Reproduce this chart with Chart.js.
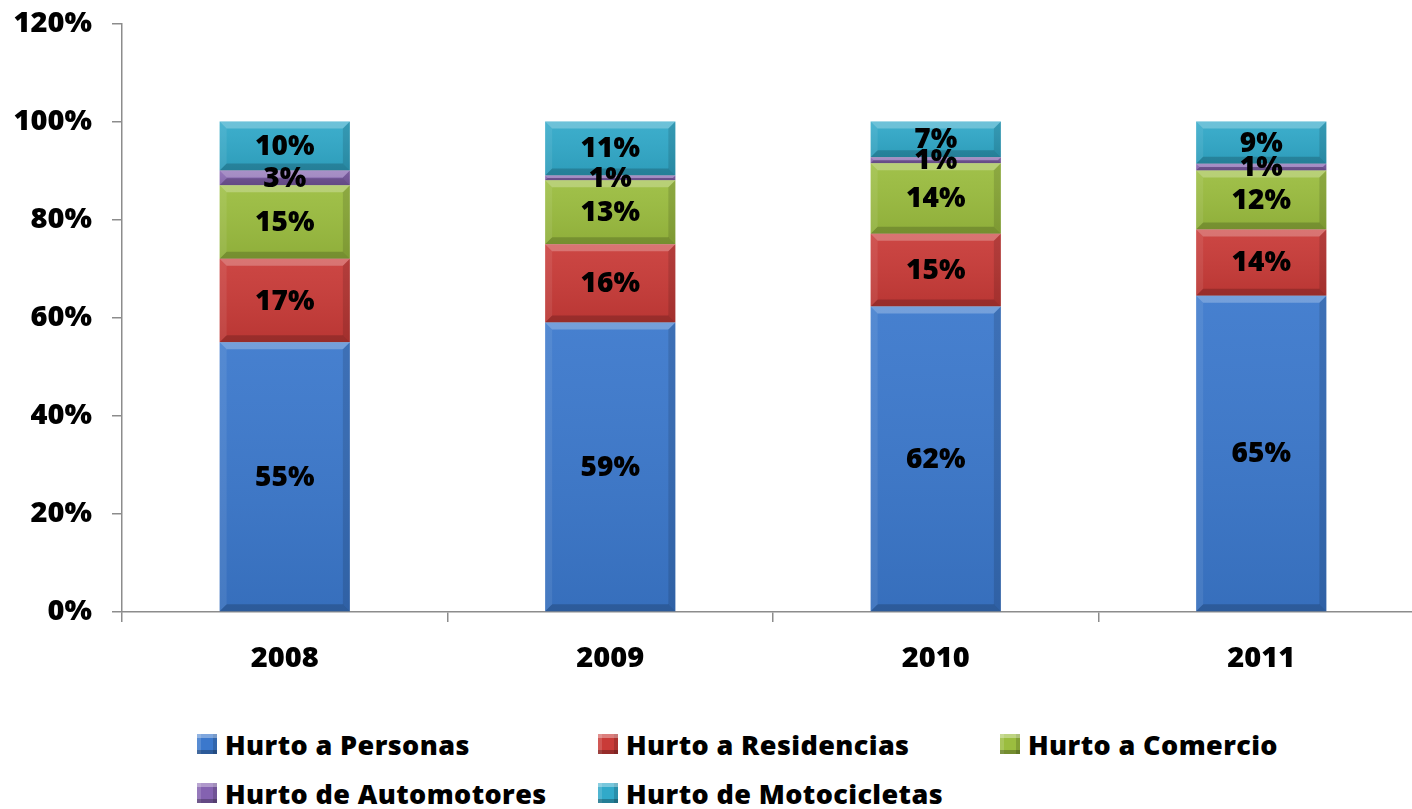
<!DOCTYPE html>
<html>
<head>
<meta charset="utf-8">
<script src="https://cdn.jsdelivr.net/npm/chart.js@4.4.1/dist/chart.umd.min.js"></script>
<style>
  html, body { margin: 0; padding: 0; background: #fff; overflow: hidden; }
  body { width: 1412px; height: 809px; position: relative; font-family: "Open Sans", Lato, sans-serif; }
  #wrap { position: absolute; left: 0; top: -14px; width: 1424px; height: 714px; }
  #legend { position: absolute; left: 197px; top: 724px; display: grid;
    grid-template-columns: 401px 402px 300px; row-gap: 9px; }
  .item { display: flex; align-items: center; height: 40px; font-weight: 800; font-size: 27px; color: #000; white-space: nowrap; letter-spacing: 0.4px; }
  .box { width: 20px; height: 20px; margin-right: 8px;
    box-shadow: inset 0 4px 0 rgba(255,255,255,0.35), inset 0 -4px 0 rgba(0,0,0,0.25), inset 4px 0 0 rgba(255,255,255,0.15), inset -4px 0 0 rgba(0,0,0,0.15); }
</style>
</head>
<body>
<div id="wrap"><canvas id="chart" width="1424" height="714"></canvas></div>
<div id="legend"></div>
<script>
// Hurto por tipo, participación anual (%)
const years = ['2008', '2009', '2010', '2011'];
const seriesNames = ['Hurto a Personas', 'Hurto a Residencias', 'Hurto a Comercio', 'Hurto de Automotores', 'Hurto de Motocicletas'];
const personas    = [55, 59, 62.3, 64.5];
const residencias = [17, 16, 14.8, 13.5];
const comercio    = [15, 13, 14.4, 12.0];
const automotores = [3, 1, 1.2, 1.4];
const motocicletas = [10, 11, 7.3, 8.6];
const yTicks = [0, 20, 40, 60, 80, 100, 120];

const colors = ['#3B78CC', '#C93B38', '#9BBD3F', '#8462B0', '#31A9C9'];
const values = [personas, residencias, comercio, automotores, motocicletas];
const FONT = '"Open Sans", Lato, sans-serif';

// bevel look of the Excel bars, drawn over each bar element
const bevelPlugin = {
  id: 'bevel',
  afterDatasetsDraw(chart) {
    const ctx = chart.ctx;
    chart.data.datasets.forEach((ds, i) => {
      chart.getDatasetMeta(i).data.forEach(bar => {
        const p = bar.getProps(['x', 'y', 'base', 'width'], true);
        const l = p.x - p.width / 2, r = p.x + p.width / 2;
        const t = Math.min(p.y, p.base), b = Math.max(p.y, p.base);
        const h = b - t;
        const s = Math.min(7, h / 2);
        ctx.save();
        const g = ctx.createLinearGradient(0, t, 0, b);
        g.addColorStop(0, 'rgba(255,255,255,0.06)');
        g.addColorStop(1, 'rgba(0,0,0,0.08)');
        ctx.fillStyle = g;
        ctx.fillRect(l, t, r - l, h);
        ctx.fillStyle = 'rgba(255,255,255,0.25)';
        ctx.beginPath(); ctx.moveTo(l, t); ctx.lineTo(r, t); ctx.lineTo(r - s, t + s); ctx.lineTo(l + s, t + s); ctx.closePath(); ctx.fill();
        ctx.fillStyle = 'rgba(0,0,0,0.18)';
        ctx.beginPath(); ctx.moveTo(l, b); ctx.lineTo(r, b); ctx.lineTo(r - s, b - s); ctx.lineTo(l + s, b - s); ctx.closePath(); ctx.fill();
        ctx.fillStyle = 'rgba(255,255,255,0.08)';
        ctx.beginPath(); ctx.moveTo(l, t); ctx.lineTo(l + s, t + s); ctx.lineTo(l + s, b - s); ctx.lineTo(l, b); ctx.closePath(); ctx.fill();
        ctx.fillStyle = 'rgba(0,0,0,0.12)';
        ctx.beginPath(); ctx.moveTo(r, t); ctx.lineTo(r - s, t + s); ctx.lineTo(r - s, b - s); ctx.lineTo(r, b); ctx.closePath(); ctx.fill();
        ctx.restore();
      });
    });
  }
};

// percentage labels centred in each segment
const labelPlugin = {
  id: 'segLabels',
  afterDatasetsDraw(chart) {
    const ctx = chart.ctx;
    ctx.save();
    ctx.font = '800 28px ' + FONT;
    ctx.fillStyle = '#000';
    ctx.textAlign = 'center';
    ctx.textBaseline = 'middle';
    chart.data.datasets.forEach((ds, i) => {
      chart.getDatasetMeta(i).data.forEach((bar, j) => {
        const p = bar.getProps(['x', 'y', 'base'], true);
        ctx.fillText(Math.round(ds.data[j]) + '%', p.x, (p.y + p.base) / 2 + 1);
      });
    });
    ctx.restore();
  }
};

new Chart(document.getElementById('chart'), {
  type: 'bar',
  data: {
    labels: years,
    datasets: seriesNames.map((name, i) => ({
      label: name,
      data: values[i],
      backgroundColor: colors[i],
      borderWidth: 0,
      barPercentage: 0.4,
      categoryPercentage: 1
    }))
  },
  options: {
    responsive: false,
    animation: false,
    layout: { padding: { top: 11, right: 0, left: 0, bottom: 0 } },
    plugins: { legend: { display: false }, tooltip: { enabled: false } },
    scales: {
      x: {
        stacked: true,
        offset: true,
        grid: { offset: true, drawOnChartArea: false, tickLength: 10, color: '#8c8c8c', lineWidth: 1.5 },
        border: { color: '#8c8c8c', width: 1.5 },
        ticks: { color: '#000', font: { family: FONT, size: 29, weight: '800' }, padding: 19 },
        afterFit(scale) { scale.height = 88; }
      },
      y: {
        stacked: true,
        min: 0,
        max: 120,
        afterBuildTicks(scale) { scale.ticks = yTicks.map(v => ({ value: v })); },
        grid: { drawOnChartArea: false, tickLength: 10, color: '#8c8c8c', lineWidth: 1.5 },
        border: { color: '#8c8c8c', width: 1.5 },
        ticks: { color: '#000', font: { family: FONT, size: 29, weight: '800' }, padding: 20,
          callback: v => v + '%' },
        afterFit(scale) { scale.width = 122; }
      }
    }
  },
  plugins: [bevelPlugin, labelPlugin]
});

// legend laid out in columns like the original
const legend = document.getElementById('legend');
seriesNames.forEach((name, i) => {
  const item = document.createElement('div');
  item.className = 'item';
  item.innerHTML = '<span class="box" style="background:' + colors[i] + '"></span><span>' + name + '</span>';
  legend.appendChild(item);
});
</script>
</body>
</html>
